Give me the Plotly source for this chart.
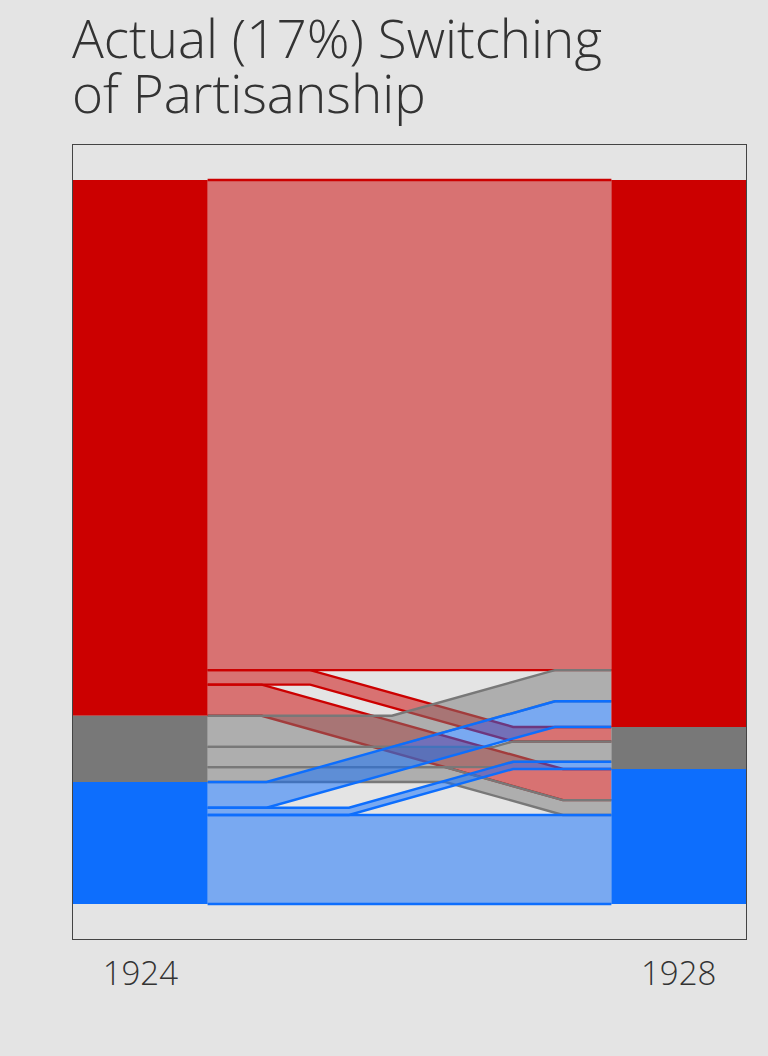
import plotly.graph_objects as go

# ---------------- data ----------------
years = ["1924", "1928"]
parties = ["Republican", "Other", "Democratic"]          # top to bottom
party_colors = ["#cc0000", "#787878", "#0d6efd"]
# share of all voters (%) by 1924 party -> 1928 party (order: Rep, Other, Dem)
flows_from_rep = [67.7, 2.0, 4.3]
flows_from_other = [4.3, 2.8, 2.05]
flows_from_dem = [3.55, 1.0, 12.3]
title_lines = ["Actual (17%) Switching", "of Partisanship"]

flows = [flows_from_rep, flows_from_other, flows_from_dem]

# ---------------- layout constants ----------------
W, H = 768, 1056
M_L, M_R, M_T, M_B = 73, 22, 145, 117
PLOT_W = W - M_L - M_R
PLOT_H = H - M_T - M_B
TOTAL = sum(sum(r) for r in flows)
PAD_PX = 35
BAR_PX = PLOT_H - 2 * PAD_PX
pad = PAD_PX / BAR_PX * TOTAL
px_per_y = BAR_PX / TOTAL
px_per_x = PLOT_W  # x axis spans [0, 1]

NODE_W = 0.2
SLOPE_PX = 0.28                      # diagonal slope in pixels
slope = SLOPE_PX * px_per_x / px_per_y  # in data units
# x where diagonal part ends, by destination party
diag_end = [0.716, 0.654, 0.728]
EDGE_W = 2.4


def rgba(hexc, a):
    h = hexc.lstrip("#")
    r, g, b = int(h[0:2], 16), int(h[2:4], 16), int(h[4:6], 16)
    return f"rgba({r},{g},{b},{a})"


n = len(parties)
left_tot = [sum(flows[i]) for i in range(n)]
right_tot = [sum(flows[i][j] for i in range(n)) for j in range(n)]
left_start = [sum(left_tot[:i]) for i in range(n)]
right_start = [sum(right_tot[:j]) for j in range(n)]

fig = go.Figure()

# right-side positions: destination j stacked by source order
right_pos = {}
for j in range(n):
    acc = right_start[j]
    for i in range(n):
        right_pos[(i, j)] = acc
        acc += flows[i][j]

x0, x1 = NODE_W, 1 - NODE_W
for i in range(n):
    acc = left_start[i]
    for j in range(n):
        v = flows[i][j]
        lt, lb = acc, acc + v
        rt = right_pos[(i, j)]
        rb = rt + v
        acc += v
        xe = diag_end[j]
        xs = xe - abs(rt - lt) / slope
        label = f"{parties[i]} → {parties[j]}: {v}%"
        fig.add_trace(go.Scatter(
            x=[x0, xs, xe, x1, x1, xe, xs, x0, x0],
            y=[lt, lt, rt, rt, rb, rb, lb, lb, lt],
            mode="lines", fill="toself",
            fillcolor=rgba(party_colors[i], 0.5),
            line=dict(color=party_colors[i], width=0),
            hoverinfo="text", text=label, showlegend=False,
        ))
        fig.add_trace(go.Scatter(
            x=[x0, xs, xe, x1, None, x0, xs, xe, x1],
            y=[lt, lt, rt, rt, None, lb, lb, rb, rb],
            mode="lines",
            line=dict(color=party_colors[i], width=EDGE_W),
            hoverinfo="skip", showlegend=False,
        ))

# nodes
for side, (starts, tots) in enumerate([(left_start, left_tot), (right_start, right_tot)]):
    xa = 0 if side == 0 else 1 - NODE_W
    xb = NODE_W if side == 0 else 1
    for k in range(n):
        y0, y1 = starts[k], starts[k] + tots[k]
        fig.add_trace(go.Scatter(
            x=[xa, xb, xb, xa, xa], y=[y0, y0, y1, y1, y0],
            mode="lines", fill="toself",
            fillcolor=party_colors[k],
            line=dict(color=party_colors[k], width=0),
            hoverinfo="text",
            text=f"{years[side]} {parties[k]}: {tots[k]:.2f}%",
            showlegend=False,
        ))

FONT = "Open Sans"
TITLE_SIZE = 53
fig.update_layout(
    width=W, height=H,
    margin=dict(l=M_L, r=M_R, t=M_T, b=M_B),
    paper_bgcolor="#e4e4e4", plot_bgcolor="#e4e4e4",
    font=dict(family=FONT, color="#333333", weight=300),
    xaxis=dict(range=[0, 1], tickvals=[NODE_W / 2, 1 - NODE_W / 2], ticktext=years,
               showgrid=False, zeroline=False, showline=True, mirror=True,
               linecolor="#444444", linewidth=1, ticks="",
               tickfont=dict(size=33, color="#333333", family=FONT, weight=300),
               ticklabelstandoff=5, fixedrange=True),
    yaxis=dict(range=[TOTAL + pad, -pad], showgrid=False, zeroline=False,
               showticklabels=False, showline=True, mirror=True,
               linecolor="#444444", linewidth=1, ticks="", fixedrange=True),
    annotations=[
        dict(text=title_lines[0], xref="paper", yref="paper", x=0, xanchor="left",
             xshift=-2, borderpad=0,
             y=(H - M_B - 75) / PLOT_H, yanchor="bottom", showarrow=False,
             font=dict(size=TITLE_SIZE, color="#333333", family=FONT, weight=300)),
        dict(text=title_lines[1], xref="paper", yref="paper", x=0, xanchor="left",
             xshift=-2, borderpad=0,
             y=(H - M_B - 130) / PLOT_H, yanchor="bottom", showarrow=False,
             font=dict(size=TITLE_SIZE, color="#333333", family=FONT, weight=300)),
    ],
)

fig.write_html("out.html")
